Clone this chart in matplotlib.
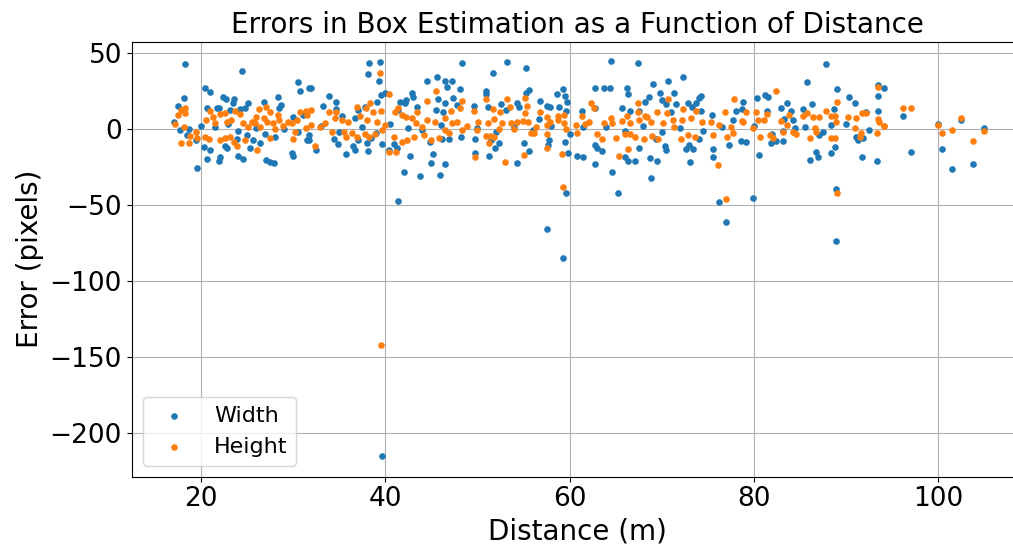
import matplotlib
matplotlib.use('Agg')
import matplotlib.pyplot as plt

# box width error vs. distance
width_dist = [
    18.3, 24.5, 30.5, 30.8, 31.7, 20.5, 21.0, 22.4, 22.7, 23.6, 23.5, 25.1, 26.9, 28.4, 28.7, 28.5,
    18.2, 17.5, 20.7, 21.7, 22.0, 23.2, 24.8, 17.1, 17.7, 18.7, 19.5, 20.3, 21.0, 20.7, 22.1, 22.0,
    22.6, 22.8, 24.0, 24.6, 23.9, 25.3, 25.7, 26.4, 27.1, 27.5, 27.9, 19.6, 29.9, 30.0, 31.5, 31.7,
    30.0, 31.1, 24.2, 21.5, 24.0, 26.0, 27.0, 29.0, 18.5, 20.0, 23.0, 25.0, 28.0, 30.5,
    31.9, 38.2, 39.4, 38.1, 39.3, 33.9, 34.7, 33.3, 34.7, 39.1, 39.5, 40.0, 41.6, 42.2, 42.9, 43.0,
    42.1, 41.4, 43.4, 44.5, 45.6, 46.5, 46.7, 47.2, 45.7, 46.5, 47.4, 45.5, 46.3, 37.1, 37.8, 35.3,
    36.7, 31.7, 32.5, 34.4, 34.9, 35.7, 36.5, 36.7, 37.1, 38.1, 38.0, 38.5, 39.7, 40.4, 40.9, 41.3,
    42.0, 42.7, 43.8, 45.0, 45.2, 45.9, 46.5, 44.9, 46.2, 46.9, 41.4, 39.6,
    33.0, 35.0, 37.5, 39.0, 40.5, 42.5, 44.0, 46.0,
    48.3, 53.2, 55.3, 51.7, 48.1, 50.9, 50.9, 55.6, 55.3, 62.7, 58.6, 59.3, 59.5, 59.7, 47.8, 49.6,
    51.1, 52.6, 53.1, 54.3, 54.5, 56.8, 57.5, 57.9, 58.8, 59.6, 61.3, 62.7, 56.7, 48.2, 49.7, 51.5,
    52.3, 51.9, 49.7, 51.3, 55.0, 55.6, 54.3, 57.8, 57.7, 59.5, 59.8, 60.8, 61.4, 62.8, 63.0, 62.8,
    59.6, 57.5, 59.3,
    50.0, 52.0, 54.0, 56.0, 58.0, 60.0, 61.5,
    64.5, 67.4, 63.7, 64.4, 66.2, 66.3, 69.0, 70.7, 72.3, 69.8, 71.3, 68.6, 68.2, 74.2, 74.0, 73.7,
    72.8, 70.0, 70.4, 71.5, 78.8, 78.0, 78.7, 66.5, 65.7, 67.5, 71.0, 73.3, 74.2, 75.4, 77.7, 63.5,
    64.6, 65.3, 66.0, 66.3, 67.1, 67.5, 68.7, 69.5, 68.8, 69.4, 70.3, 70.4, 72.6, 73.0, 73.4, 73.1,
    74.0, 75.5, 75.6, 77.3, 78.6, 76.2, 77.0,
    64.0, 66.0, 68.0, 70.0, 72.0, 74.5, 76.5,
    87.8, 85.8, 89.0, 93.5, 94.1, 93.4, 90.3, 91.0, 80.3, 81.2, 81.5, 83.6, 82.9, 81.4, 84.0, 85.3,
    86.3, 88.7, 93.5, 92.1, 83.2, 84.2, 88.4, 79.1, 81.8, 82.4, 83.1, 83.1, 84.4, 87.1, 80.5, 86.1,
    86.7, 86.9, 88.3, 88.8, 91.1, 91.3, 91.8, 91.7, 93.3, 79.9, 88.9, 88.9,
    80.0, 82.0, 85.5, 87.5, 90.0, 92.5,
    96.2, 97.0, 100.0, 100.4, 101.5, 102.4, 103.7, 104.9,
]
width_err = [
    42.5, 38.4, 30.9, 25.2, 27.2, 27.2, 24.6, 20.8, 19.5, 19.5, 16.9, 17.3, 18.0, 21.3, 15.8, 13.6,
    20.2, 15.1, 14.0, 13.6, 13.6, 12.5, 13.6, 4.8, -0.7, -0.2, -7.2, -12.1, -13.8, -19.7, -18.6, -20.8,
    -11.2, -12.7, -17.8, -19.7, -6.6, -12.7, -7.2, -9.0, -20.4, -21.5, -22.1, -25.7, -16.0, -17.8, -7.2, -3.9,
    8.1, 9.2, 13.0, 1.0, -1.5, 0.5, -3.0, 0.0, -4.0, 2.0, 3.0, -4.0, -5.0, -2.0,
    27.2, 43.2, 43.9, 36.0, 31.6, 21.7, 18.0, 15.1, 13.2, 18.0, 22.4, 23.4, 18.0, 19.1, 23.9, 21.3,
    16.9, 12.5, 14.2, 31.8, 34.0, 31.6, 27.9, 31.8, 20.0, 17.3, 20.2, 12.5, 11.4, 12.5, 14.7, 8.6,
    7.0, -7.2, -13.8, -6.8, -9.9, -16.7, -11.2, -13.8, -7.2, -14.3, -9.4, -6.1, -10.1, -13.8, -9.9, -12.7,
    -28.5, -17.5, -30.7, -22.2, -16.7, -30.3, -23.0, -8.8, -6.8, -6.8, -47.2, -215.0,
    2.0, -2.0, 1.0, -2.5, 3.0, 0.5, -1.0, 2.5,
    43.2, 43.9, 40.4, 36.6, 26.1, 25.2, 22.8, 25.7, 23.4, 26.8, 23.0, 26.3, 21.7, 18.0, 15.8, 15.3,
    14.2, 16.4, 12.5, 16.9, 14.7, 18.6, 15.1, 14.7, 14.7, 11.9, 12.1, 13.6, 6.6, -5.5, -6.4, -7.2,
    -9.0, -12.3, -15.6, -17.8, -9.0, -14.3, -22.6, -7.2, -10.5, -8.3, -15.6, -17.8, -18.6, -10.5, -12.7, -23.3,
    -41.9, -65.8, -84.9,
    0.5, -2.0, 1.5, -1.0, 2.0, -3.0, 1.0,
    44.7, 43.6, 27.2, 26.8, 26.8, 22.8, 29.4, 31.8, 34.4, 23.4, 23.4, 20.8, 18.0, 21.9, 20.2, 17.3,
    16.9, 19.1, 16.2, 16.2, 17.5, 12.1, 13.2, 12.1, 13.6, 12.1, 11.4, 14.7, 12.1, 9.2, 5.9, -14.3,
    -28.1, -42.3, -18.2, -20.8, -21.1, -12.7, -18.9, -20.8, -32.0, -6.8, -11.2, -13.8, -13.4, -10.5, -13.4, -21.9,
    -6.8, -13.4, -18.6, -10.5, -7.7, -47.8, -61.0,
    1.0, -1.5, 2.0, -2.0, 0.5, -1.5, 1.0,
    42.5, 31.1, 26.3, 28.9, 26.8, 21.7, 20.8, 17.3, 20.2, 22.4, 21.3, 17.3, 13.6, 11.8, 11.8, 12.9,
    16.2, 13.2, 12.1, 11.0, 6.4, 5.9, 2.6, -8.3, -9.0, -7.9, -7.7, -1.1, 0.4, -4.0, -17.1, -20.4,
    -14.9, -18.2, -16.0, -11.6, -5.0, -7.2, -6.1, -18.2, -20.8, -45.2, -39.7, -73.7,
    2.0, -3.0, 1.0, -2.0, 3.0, -1.0,
    8.6, -15.4, 3.3, -13.4, -26.5, 5.9, -23.2, 0.4,
]

# box height error vs. distance
height_dist = [
    17.2, 17.5, 17.9, 18.3, 18.3, 18.2, 17.9, 18.7, 18.8, 19.5, 19.6, 20.4, 20.9, 20.6, 21.0, 21.3,
    22.1, 22.6, 21.5, 22.1, 22.6, 23.2, 23.6, 23.9, 22.8, 23.3, 23.7, 24.2, 24.6, 24.8, 25.1, 25.5,
    25.9, 26.1, 26.3, 26.0, 26.4, 26.9, 27.1, 27.5, 27.5, 27.2, 27.8, 28.0, 28.4, 28.5, 28.9, 29.4,
    29.9, 30.0, 30.2, 30.4, 30.8, 31.4, 31.5, 31.4,
    39.4, 40.4, 38.3, 36.9, 37.9, 38.7, 39.5, 31.9, 33.9, 34.7, 35.3, 34.6, 36.0, 37.3, 38.0, 39.1,
    39.6, 40.0, 41.1, 41.4, 41.8, 42.2, 42.9, 43.5, 44.5, 45.5, 43.3, 44.0, 44.5, 45.4, 46.5, 47.1,
    47.2, 46.5, 32.4, 32.9, 32.0, 33.5, 34.2, 35.5, 35.7, 36.4, 36.9, 37.8, 38.2, 38.9, 40.9, 40.4,
    41.2, 41.8, 42.4, 43.1, 44.2, 45.0, 45.8, 46.9, 39.5,
    48.3, 48.1, 49.6, 50.9, 51.7, 53.2, 53.5, 52.5, 51.8, 55.2, 55.4, 55.2, 56.8, 57.6, 58.7, 59.4,
    61.3, 62.3, 62.6, 62.1, 47.8, 48.9, 50.1, 51.1, 52.7, 53.6, 54.3, 54.9, 55.5, 56.3, 57.6, 57.9,
    58.7, 59.4, 59.6, 60.7, 60.8, 61.7, 63.0, 48.3, 49.9, 50.9, 51.4, 51.3, 51.8, 52.3, 54.0, 55.8,
    57.6, 57.6, 55.0, 53.0, 59.2, 59.3, 49.7, 56.1,
    67.4, 70.7, 67.4, 68.4, 69.5, 70.6, 72.3, 73.7, 77.8, 76.9, 78.7, 64.5, 63.7, 64.6, 65.7, 66.2,
    66.5, 67.5, 68.2, 68.8, 70.1, 71.2, 72.2, 73.2, 74.4, 75.3, 76.2, 77.5, 63.5, 65.0, 66.0, 66.5,
    67.1, 68.1, 68.9, 69.6, 71.3, 72.1, 72.8, 73.6, 75.5, 77.1, 77.7, 66.3, 65.4, 76.1, 77.0,
    82.4, 79.1, 80.2, 81.4, 81.1, 80.4, 78.8, 82.9, 83.8, 83.6, 83.1, 84.2, 84.6, 85.3, 85.8, 86.4,
    87.1, 87.8, 88.4, 88.8, 89.0, 88.9, 86.6, 86.7, 86.1, 88.3, 88.8, 90.2, 91.1, 90.9, 91.6, 91.7,
    92.2, 93.4, 93.6, 94.1, 93.3, 93.5, 79.9, 80.6, 81.7, 82.1, 91.5, 89.0,
    96.2, 97.0, 94.1, 100.0, 100.4, 101.5, 102.5, 103.7, 104.9,
]
height_err = [
    3.3, 9.2, 12.5, 13.6, 10.8, 1.1, -9.0, -9.0, -4.6, -1.8, -5.9, -5.5, -6.8, 5.9, 12.0, 8.1,
    9.9, 10.7, 3.7, -7.2, -6.1, -5.0, -8.3, -11.2, 4.8, 5.9, 12.0, 9.9, 4.2, -7.2, 1.5, 4.8,
    3.7, -13.8, 12.9, 8.1, 1.5, 7.0, 14.7, 11.4, -6.1, 4.8, 3.7, -0.2, 9.2, 5.9, 2.0, 4.8,
    3.7, -6.8, -1.8, 5.9, 11.4, 12.0, 9.2, 0.4,
    36.6, 22.8, 17.3, 14.7, 13.6, 11.4, 12.0, 12.5, 11.0, 11.4, 5.9, 7.0, 4.8, 8.6, 5.9, 4.8,
    -0.7, 2.6, 11.4, 13.6, 9.2, 8.1, 7.0, 11.4, 18.4, 25.2, 3.7, 1.5, 5.9, 4.8, 7.0, 12.0,
    3.7, -0.7, -11.2, 1.5, 2.6, 3.7, -1.8, -1.8, -5.0, -2.9, -5.0, -3.5, -5.0, -3.5, -5.0, -15.4,
    -15.4, -8.3, -7.2, -5.0, -3.9, -7.2, -6.1, -2.9, -142.0,
    18.6, 13.6, 12.1, 19.7, 12.9, 19.5, 14.2, 11.4, 6.6, 20.2, 15.1, 10.3, 11.4, 8.1, 8.6, 9.2,
    8.8, 16.9, 13.6, 4.8, 4.8, 2.0, 4.8, 3.7, 3.7, 4.2, 4.8, 5.5, 4.8, 1.5, 2.6, 4.8,
    5.9, 3.7, -0.2, 2.6, -2.9, 3.0, -3.0, -0.7, -0.7, -4.6, -4.6, -9.0, -5.0, -0.2, -0.2, -2.4,
    -3.3, -12.7, -17.1, -21.9, -16.7, -37.9, -18.2, -2.4,
    16.9, 19.5, 11.4, 8.1, 11.4, 10.8, 13.2, 12.1, 19.5, 11.4, 5.5, 7.0, 3.7, 3.7, 5.5, 8.6,
    4.2, 5.9, 8.6, 4.8, 3.7, 5.9, 5.9, 7.0, 4.8, 4.8, 2.6, 1.5, -6.8, -5.7, -3.5, -3.5,
    -5.0, -6.8, -4.6, -6.8, 1.1, -6.8, -3.9, -5.0, -3.9, -5.0, -2.9, -13.4, -17.5, -23.7, -46.1,
    25.2, 11.4, 11.4, 9.9, 5.9, 5.9, 4.8, 5.5, 9.2, 2.6, -1.8, -1.8, -3.5, 8.6, 10.8, 7.7,
    7.7, 12.1, 8.6, 8.6, 18.0, 4.8, 0.4, -1.8, -5.7, -6.1, -6.1, 7.7, 7.0, 0.4, -2.4, 10.3,
    10.8, 6.6, 4.8, 2.0, -2.9, 27.4, 0.4, -5.0, -3.9, -6.1, -5.0, -41.9,
    13.6, 13.6, 2.0, 2.6, -2.9, -0.7, 7.0, -7.7, -1.1,
]

fig = plt.figure(figsize=(10.13, 5.5), dpi=100)
ax = fig.add_axes([0.130, 0.1333, 0.881, 0.7909])

ax.scatter(width_dist, width_err, s=14, color='#1f77b4', label='Width')
ax.scatter(height_dist, height_err, s=14, color='#ff7f0e', label='Height')

ax.set_xlim(12.5, 109.3)
ax.set_ylim(-228.7, 57.4)
ax.grid(True, color='#b0b0b0', linewidth=0.8)
ax.set_axisbelow(True)

ax.set_title('Errors in Box Estimation as a Function of Distance', fontsize=20)
ax.set_xlabel('Distance (m)', fontsize=20)
ax.set_ylabel('Error (pixels)', fontsize=20)
ax.tick_params(labelsize=19)
ax.legend(loc='lower left', fontsize=16)

fig.savefig('out.png', dpi=100)
